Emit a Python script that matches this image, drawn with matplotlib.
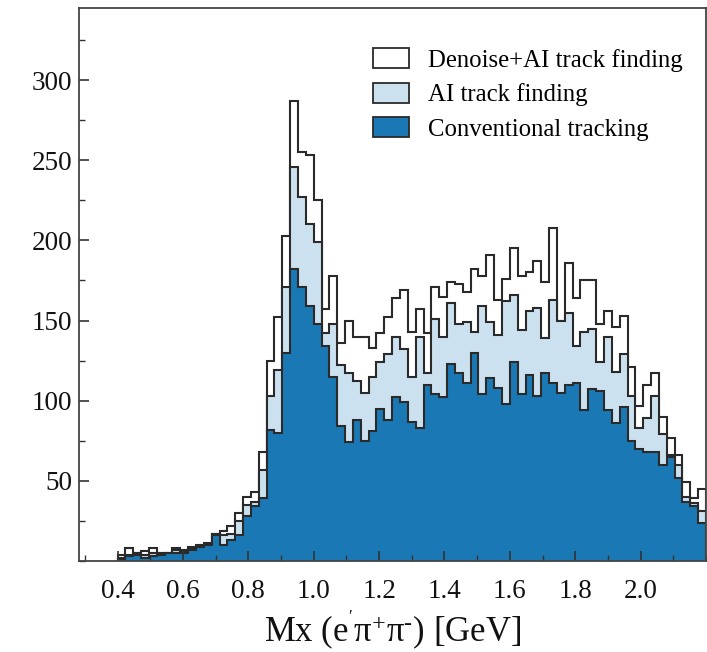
import numpy as np
import matplotlib
matplotlib.use("Agg")
import matplotlib.pyplot as plt
from matplotlib.patches import Patch
from matplotlib.ticker import MultipleLocator

# ---- data (bin edges 0.400 ... 2.200, width 0.024) ----
bin_start = 0.4
bin_width = 0.024
n_bins = 75
edges = bin_start + bin_width * np.arange(n_bins + 1)

denoise_ai = [4, 8, 5, 6, 8, 5, 5, 8, 7, 9, 10, 11, 17, 19, 22, 30, 40, 43, 68, 125,
              152, 203, 287, 255, 253, 225, 157, 178, 136, 150, 140, 140, 133, 142, 152, 164, 169, 143, 157, 142,
              171, 165, 174, 173, 168, 182, 178, 191, 163, 176, 195, 178, 180, 187, 174, 208, 150, 186, 164, 175,
              175, 148, 156, 146, 153, 121, 97, 110, 117, 90, 77, 66, 49, 39, 45]
ai_track = [2, 4, 5, 4, 5, 5, 5, 7, 6, 8, 9, 10, 17, 16, 17, 25, 35, 37, 57, 103,
            119, 171, 246, 227, 210, 199, 142, 148, 122, 117, 112, 105, 115, 124, 129, 140, 132, 115, 140, 117,
            151, 140, 161, 148, 149, 143, 159, 149, 141, 162, 166, 144, 156, 158, 139, 163, 150, 155, 134, 143,
            145, 124, 140, 118, 129, 103, 83, 89, 103, 79, 66, 60, 40, 36, 31]
conventional = [1, 3, 4, 2, 3, 4, 5, 5, 5, 7, 9, 10, 16, 10, 13, 16, 28, 34, 39, 82,
                80, 130, 182, 171, 159, 148, 134, 115, 84, 74, 88, 75, 81, 95, 88, 102, 99, 87, 83, 110,
                104, 102, 123, 117, 111, 130, 104, 114, 108, 98, 124, 104, 116, 103, 117, 111, 105, 110, 111, 94,
                107, 106, 94, 86, 96, 75, 70, 68, 68, 60, 65, 52, 37, 34, 24]

labels = ["Denoise+AI track finding", "AI track finding", "Conventional tracking"]
colors = ["#ffffff", "#cce1ef", "#1a78b4"]

x_ticks = [0.4, 0.6, 0.8, 1.0, 1.2, 1.4, 1.6, 1.8, 2.0]
y_ticks = [50, 100, 150, 200, 250, 300]

plt.rcParams['font.family'] = ['Liberation Serif', 'DejaVu Serif']
plt.rcParams['mathtext.fontset'] = 'custom'
plt.rcParams['mathtext.rm'] = 'Liberation Serif'
plt.rcParams['mathtext.default'] = 'rm'

fig = plt.figure(figsize=(7.07, 6.52), dpi=100)
ax = fig.add_axes([0.1117, 0.1396, 0.8869, 0.8481])

edge_col = "#2a2a2a"
for vals, col in zip([denoise_ai, ai_track, conventional], colors):
    ax.stairs(vals, edges, fill=True, facecolor=col, edgecolor=edge_col,
              linewidth=1.5, baseline=0)

ax.set_xlim(0.282, 2.2)
ax.set_ylim(0, 345)

ax.set_xticks(x_ticks)
ax.set_xticklabels([f"{v:.1f}" for v in x_ticks])
ax.xaxis.set_minor_locator(MultipleLocator(0.1))
ax.set_yticks(y_ticks)
ax.yaxis.set_minor_locator(MultipleLocator(25))

ax.tick_params(axis='both', which='both', direction='in', top=False, right=False,
               colors='#333333', labelcolor='#111111')
ax.tick_params(axis='both', which='major', length=7, width=1.2, labelsize=19.5)
ax.tick_params(axis='both', which='minor', length=4, width=1.0)
ax.tick_params(axis='x', which='major', pad=13)
ax.tick_params(axis='y', which='major', pad=5)

for sp in ax.spines.values():
    sp.set_color('#444444')
    sp.set_linewidth(1.3)

ax.set_xlabel("Mx (e$^{'}$π$^{+}$π$^{\u2010}$) [GeV]", fontsize=25, labelpad=3, color='#111111')

handles = [Patch(facecolor=c, edgecolor=edge_col, linewidth=1.3) for c in colors]
leg = ax.legend(handles, labels, loc='upper right', frameon=False, fontsize=17.8,
                handlelength=1.42, handleheight=0.85, handletextpad=0.8, labelspacing=0.45,
                bbox_to_anchor=(0.995, 0.963), borderaxespad=0.4)

fig.savefig("out.png", dpi=100)
